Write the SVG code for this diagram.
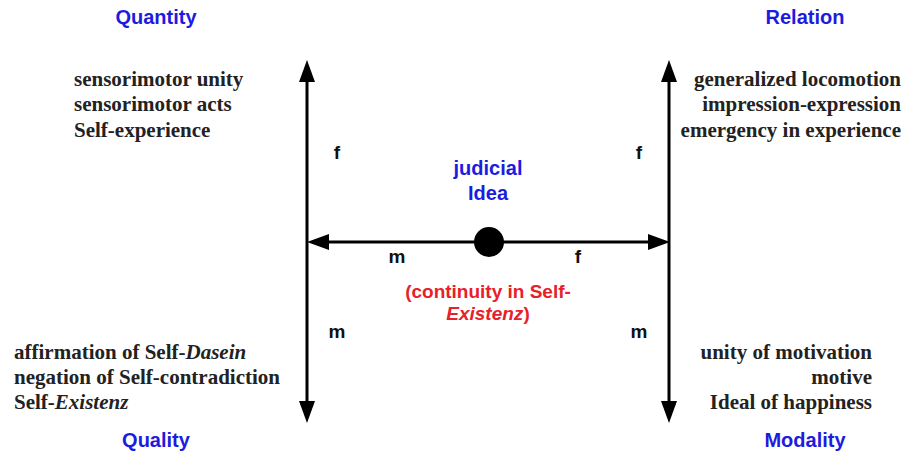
<svg xmlns="http://www.w3.org/2000/svg" width="904" height="454" viewBox="0 0 904 454">
<style>
.title{font-family:"Liberation Sans",Arial,sans-serif;font-weight:bold;font-size:20px;fill:#1c1ce0;text-anchor:middle}
.lab{font-family:"Liberation Sans",Arial,sans-serif;font-weight:bold;font-size:19px;fill:#111;text-anchor:middle}
.red{font-family:"Liberation Sans",Arial,sans-serif;font-weight:bold;font-size:19px;fill:#e8202a;text-anchor:middle}
.ser{font-family:"Liberation Serif","Times New Roman",serif;font-weight:bold;font-size:21px;fill:#222}
.end{text-anchor:end}
.it{font-style:italic}
.ln{stroke:#000;stroke-width:3;fill:none}
</style>
<defs>
<marker id="ah" markerUnits="userSpaceOnUse" markerWidth="24" markerHeight="18" refX="12" refY="8" orient="auto-start-reverse" viewBox="0 0 24 18">
<path d="M0,0 L22,8 L0,16 z" fill="#000"/>
</marker>
</defs>
<g id="connectors">
<line class="ln" x1="307" y1="70" x2="307" y2="413" marker-start="url(#ah)" marker-end="url(#ah)"/>
<line class="ln" x1="669" y1="70" x2="669" y2="413" marker-start="url(#ah)" marker-end="url(#ah)"/>
<line class="ln" x1="489" y1="242" x2="317" y2="242" marker-end="url(#ah)"/>
<line class="ln" x1="489" y1="242" x2="660" y2="242" marker-end="url(#ah)"/>
<text class="lab" x="337" y="159">f</text>
<text class="lab" x="639" y="159">f</text>
<text class="lab" x="397" y="263">m</text>
<text class="lab" x="578" y="263">f</text>
<text class="lab" x="337" y="338">m</text>
<text class="lab" x="639" y="338">m</text>
</g>
<g id="center">
<circle cx="489" cy="242" r="15" fill="#000"/>
<text class="title" x="488" y="175">judicial</text>
<text class="title" x="488" y="200">Idea</text>
<text class="red" x="488" y="298">(continuity in Self-</text>
<text class="red" x="488" y="320"><tspan class="it">Existenz</tspan>)</text>
</g>
<g id="quantity">
<text class="title" x="156" y="24">Quantity</text>
<text class="ser" x="74" y="86">sensorimotor unity</text>
<text class="ser" x="74" y="111">sensorimotor acts</text>
<text class="ser" x="74" y="137">Self-experience</text>
</g>
<g id="relation">
<text class="title" x="805" y="24">Relation</text>
<text class="ser end" x="901" y="86">generalized locomotion</text>
<text class="ser end" x="901" y="111">impression-expression</text>
<text class="ser end" x="901" y="137">emergency in experience</text>
</g>
<g id="quality">
<text class="ser" x="14" y="359">affirmation of Self-<tspan class="it">Dasein</tspan></text>
<text class="ser" x="14" y="384">negation of Self-contradiction</text>
<text class="ser" x="14" y="409">Self-<tspan class="it">Existenz</tspan></text>
<text class="title" x="156" y="447">Quality</text>
</g>
<g id="modality">
<text class="ser end" x="872" y="359">unity of motivation</text>
<text class="ser end" x="872" y="384">motive</text>
<text class="ser end" x="872" y="409">Ideal of happiness</text>
<text class="title" x="805" y="447">Modality</text>
</g>
</svg>
